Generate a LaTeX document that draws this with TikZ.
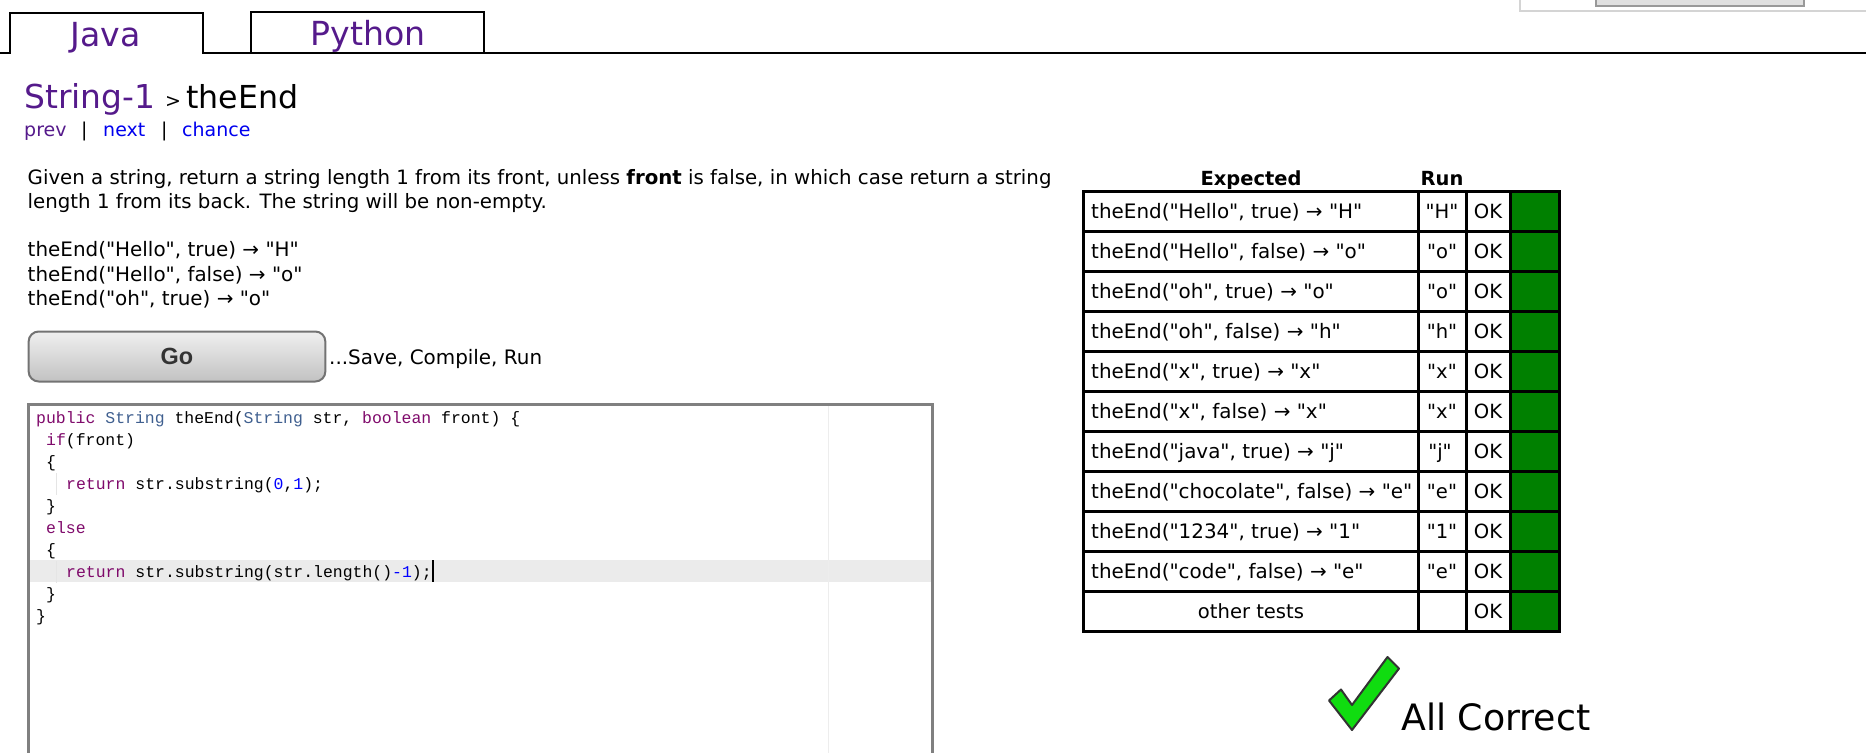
\documentclass[tikz,border=0pt]{standalone}
\usepackage{fontspec}
\usepackage{tikz}
\newfontfamily\pagefont{DejaVu Sans}
\newfontfamily\codefont{Liberation Mono}
\newfontfamily\gofont{Liberation Sans}
\definecolor{visited}{HTML}{551A8B}
\definecolor{linkblue}{HTML}{0000EE}
\definecolor{keyword}{HTML}{7F0A6B}
\definecolor{typename}{HTML}{3F5F8F}
\definecolor{okgreen}{HTML}{008000}
\definecolor{tickgreen}{HTML}{10DC10}
\newcommand{\kw}[1]{\textcolor{keyword}{#1}}
\newcommand{\ty}[1]{\textcolor{typename}{#1}}
\newcommand{\nm}[1]{\textcolor{blue}{#1}}

\begin{document}
\begin{tikzpicture}[x=0.03cm,y=-0.03cm]
\tikzstyle{tabline}=[draw=black,line width=0.07cm]
\tikzstyle{tabtext}=[anchor=base,inner sep=0,text=visited,font=\pagefont\fontsize{28.3}{30}\selectfont]
\tikzstyle{title}=[anchor=base west,inner sep=0,font=\pagefont\fontsize{28.1}{30}\selectfont]
\tikzstyle{navi}=[anchor=base west,inner sep=0,font=\pagefont\fontsize{16.2}{20}\selectfont]
\tikzstyle{para}=[anchor=base west,inner sep=0,font=\pagefont\fontsize{16.87}{20}\selectfont]
\tikzstyle{body}=[anchor=base west,inner sep=0,font=\pagefont\fontsize{17}{20}\selectfont]
\tikzstyle{cell}=[anchor=base,inner sep=0,font=\pagefont\fontsize{16.7}{20}\selectfont]
\tikzstyle{code}=[anchor=base west,inner sep=0,font=\codefont\fontsize{14.05}{18}\selectfont]
\tikzstyle{grid}=[draw=black,line width=0.09cm]
\tikzstyle{pass}=[fill=okgreen]
\useasboundingbox (0,0) rectangle (1866,753);
% top right corner
\draw [draw=black!17,line width=0.07cm] (1520,0) -- (1520,11) -- (1866,11);
\draw [draw=black!40,fill=black!12,line width=0.05cm] (1596,0) -- (1596,6) -- (1804,6) -- (1804,0);
% tabs
\draw [tabline] (0,53) -- (10,53) -- (10,13) -- (203,13) -- (203,53) -- (1866,53);
\draw [tabline] (251,53) -- (251,12) -- (484,12) -- (484,53);
\node [tabtext] (java) at (105.5,46) {Java};
\node [tabtext] (python) at (368,45) {Python};
% heading
\node [title,text=visited] (section) at (24,108) {String-1};
\node [navi] (crumb) at (165,107) {>};
\node [title,font=\pagefont\fontsize{27}{30}\selectfont] (problem) at (186,108) {theEnd};
\node [navi,text=visited] (prev) at (24,136) {prev};
\node [navi] (barone) at (81,136) {|};
\node [navi,text=linkblue] (next) at (103,136) {next};
\node [navi] (bartwo) at (161,136) {|};
\node [navi,text=linkblue] (chance) at (182,136) {chance};
% statement
\node [para] (lineone) at (27.5,184) {Given a string, return a string length 1 from its front, unless \textbf{front} is false, in which case return a string};
\node [para] (linetwo) at (27.5,208) {length 1 from its back. The string will be non-empty.};
\node [body] (sampleone) at (27.5,256) {theEnd("Hello", true) → "H"};
\node [body] (sampletwo) at (27.5,281) {theEnd("Hello", false) → "o"};
\node [body] (samplethree) at (27.5,305) {theEnd("oh", true) → "o"};
% go button
\node [draw=black!55,line width=0.06cm,rounded corners=0.3cm,top color=black!6,bottom color=black!24,minimum width=8.9cm,minimum height=1.5cm,text=black!80,font=\gofont\bfseries\fontsize{20}{22}\selectfont] (go) at (177,356.5) {Go};
\node [body] (saverun) at (329,364) {...Save, Compile, Run};
% editor
\fill [black!8] (30,560) rectangle (931,582);
\draw [black!7] (828,405) -- (828,753);
\draw [black!10] (56,473) -- (56,495);
\draw [black!10] (56,561) -- (56,583);
\node [code] (codea) at (36,423) {\kw{public} \ty{String} theEnd(\ty{String} str, \kw{boolean} front) \{};
\node [code] (codeb) at (46,445) {\kw{if}(front)};
\node [code] (codec) at (46,467) {\{};
\node [code] (coded) at (66,489) {\kw{return} str.substring(\nm{0},\nm{1});};
\node [code] (codee) at (46,511) {\}};
\node [code] (codef) at (46,533) {\kw{else}};
\node [code] (codeg) at (46,555) {\{};
\node [code] (codeh) at (66,577) {\kw{return} str.substring(str.length()\nm{-1});};
\node [code] (codei) at (46,599) {\}};
\node [code] (codej) at (36,621) {\}};
\draw [black,line width=0.06cm] (433,560) -- (433,582);
\draw [draw=black!50,line width=0.09cm] (28.5,753) -- (28.5,404.5) -- (932,404.5) -- (932,753);
% table
\node [cell,font=\pagefont\bfseries\fontsize{16.6}{20}\selectfont] (expected) at (1251,185) {Expected};
\node [cell,font=\pagefont\bfseries\fontsize{16.6}{20}\selectfont] (run) at (1442,185) {Run};
\fill [pass] (1510,191) rectangle (1559,631);
\draw [grid] (1083,191.3) rectangle (1559,631);
\draw [grid] (1418,191.3) -- (1418,631);
\draw [grid] (1466.5,191.3) -- (1466.5,631);
\draw [grid] (1510.5,191.3) -- (1510.5,631);
\draw [grid] (1083,231.3) -- (1559,231.3);
\draw [grid] (1083,271.3) -- (1559,271.3);
\draw [grid] (1083,311.3) -- (1559,311.3);
\draw [grid] (1083,351.3) -- (1559,351.3);
\draw [grid] (1083,391.3) -- (1559,391.3);
\draw [grid] (1083,431.3) -- (1559,431.3);
\draw [grid] (1083,471.3) -- (1559,471.3);
\draw [grid] (1083,511.3) -- (1559,511.3);
\draw [grid] (1083,551.3) -- (1559,551.3);
\draw [grid] (1083,591) -- (1559,591);
\node [body] (testa) at (1091,218.7) {theEnd("Hello", true) → "H"};
\node [body] (testb) at (1091,258.7) {theEnd("Hello", false) → "o"};
\node [body] (testc) at (1091,298.7) {theEnd("oh", true) → "o"};
\node [body] (testd) at (1091,338.7) {theEnd("oh", false) → "h"};
\node [body] (teste) at (1091,378.7) {theEnd("x", true) → "x"};
\node [body] (testf) at (1091,418.7) {theEnd("x", false) → "x"};
\node [body] (testg) at (1091,458.7) {theEnd("java", true) → "j"};
\node [body] (testh) at (1091,498.7) {theEnd("chocolate", false) → "e"};
\node [body] (testi) at (1091,538.7) {theEnd("1234", true) → "1"};
\node [body] (testj) at (1091,578.7) {theEnd("code", false) → "e"};
\node [cell] (testk) at (1251,618.7) {other tests};
\node [cell] (runa) at (1442,218.7) {"H"};
\node [cell] (runb) at (1442,258.7) {"o"};
\node [cell] (runc) at (1442,298.7) {"o"};
\node [cell] (rund) at (1442,338.7) {"h"};
\node [cell] (rune) at (1442,378.7) {"x"};
\node [cell] (runf) at (1442,418.7) {"x"};
\node [cell] (rung) at (1440,458.7) {"j"};
\node [cell] (runh) at (1442,498.7) {"e"};
\node [cell] (runi) at (1442,538.7) {"1"};
\node [cell] (runj) at (1442,578.7) {"e"};
\node [cell] (oka) at (1488,218.7) {OK};
\node [cell] (okb) at (1488,258.7) {OK};
\node [cell] (okc) at (1488,298.7) {OK};
\node [cell] (okd) at (1488,338.7) {OK};
\node [cell] (oke) at (1488,378.7) {OK};
\node [cell] (okf) at (1488,418.7) {OK};
\node [cell] (okg) at (1488,458.7) {OK};
\node [cell] (okh) at (1488,498.7) {OK};
\node [cell] (oki) at (1488,538.7) {OK};
\node [cell] (okj) at (1488,578.7) {OK};
\node [cell] (okk) at (1488,618.7) {OK};
% check mark
\draw [draw=black!80,fill=tickgreen,line width=0.06cm,line join=round] (1387.5,657) -- (1399,668.5) -- (1352,730) -- (1329,700.5) -- (1341,689.5) -- (1352,705) -- cycle;
\node [anchor=base west,inner sep=0,font=\pagefont\fontsize{31}{36}\selectfont] (allcorrect) at (1401,730.7) {All Correct};
\end{tikzpicture}
\end{document}
